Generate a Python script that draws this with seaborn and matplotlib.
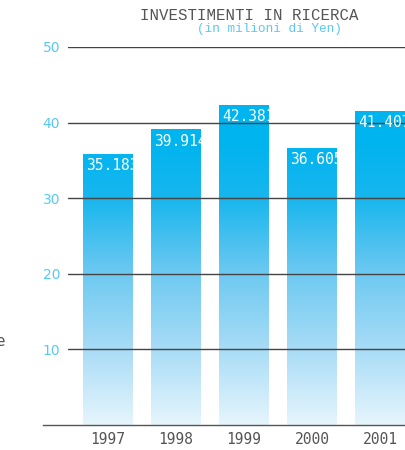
import matplotlib
matplotlib.use("Agg")
import matplotlib.pyplot as plt
import seaborn as sns
import numpy as np
import pandas as pd
from matplotlib.colors import LinearSegmentedColormap

years = ["1997", "1998", "1999", "2000", "2001"]
values = [35.9, 39.1, 42.3, 36.7, 41.5]
value_labels = ["35.183", "39.914", "42.381", "36.605", "41.407"]
yticks = [10, 20, 30, 40, 50]

sns.set_theme(style="white")
plt.rcParams['font.family'] = ['DejaVu Sans']

df = pd.DataFrame({"year": years, "value": values})

fig = plt.figure(figsize=(4.05, 4.5), dpi=100)
ax = fig.add_axes([43/405, 25/450, 362/405, 378/450])

sns.barplot(data=df, x="year", y="value", ax=ax, width=50/68,
            color="#00b4ef", saturation=1)

cmap = LinearSegmentedColormap.from_list(
    "g", [(0.0, "#e6f5fc"), (0.2, "#a8dcf6"), (0.4, "#6ec9f1"),
          (0.6, "#18b6ee"), (0.75, "#00b4ef"), (1.0, "#00b4ef")])
grad = np.linspace(0, 1, 256).reshape(-1, 1)

ax.set_xlim((43-108)/68, (405-108)/68)
ax.set_ylim(0, 50)

for patch, lab in zip(ax.patches, value_labels):
    x0 = patch.get_x()
    w = patch.get_width()
    h = patch.get_height()
    patch.set_facecolor("none")
    patch.set_edgecolor("none")
    im = ax.imshow(grad, extent=[x0, x0 + w, 0, 50], origin="lower",
                   aspect="auto", cmap=cmap, zorder=1)
    im.set_clip_path(patch)
    t = ax.annotate(lab, xy=(x0, h), xytext=(2.5, -3), textcoords="offset points",
                    ha="left", va="top", color="white", fontsize=10.5,
                    family="DejaVu Sans Mono", zorder=4)
    t.set_clip_path(patch)

ax.set_xlim((43-108)/68, (405-108)/68)
ax.set_ylim(0, 50)

for yv in yticks:
    ax.axhline(yv, xmin=25/362, xmax=1, color="#444444", lw=1.0, zorder=3)

ax.set_yticks(yticks)
ax.set_yticklabels([str(v) for v in yticks])
ax.tick_params(axis="y", pad=-12.3, length=0, labelsize=10, labelcolor="#5ac8f5")
ax.tick_params(axis="x", length=0, pad=5, labelsize=10.5, labelcolor="#555555")
for lbl in ax.get_xticklabels():
    lbl.set_family("DejaVu Sans Mono")
for lbl in ax.get_yticklabels():
    lbl.set_ha("right")

for s in ["top", "right", "left"]:
    ax.spines[s].set_visible(False)
ax.spines["bottom"].set_color("#555555")
ax.spines["bottom"].set_linewidth(1.0)
ax.set_xlabel("")
ax.set_ylabel("")

fig.text(249/405, 1 - 16/450, "INVESTIMENTI IN RICERCA", ha="center", va="center",
         fontsize=11.3, family="Liberation Mono", color="#555555")
fig.text(269/405, 1 - 29/450, "(in milioni di Yen)", ha="center", va="center",
         fontsize=9.2, family="Liberation Mono", color="#5ac8f5")
fig.text(0, 1 - 342/450, "e", ha="center", va="center", fontsize=11, color="#555555")

fig.savefig("out.png", dpi=100)
